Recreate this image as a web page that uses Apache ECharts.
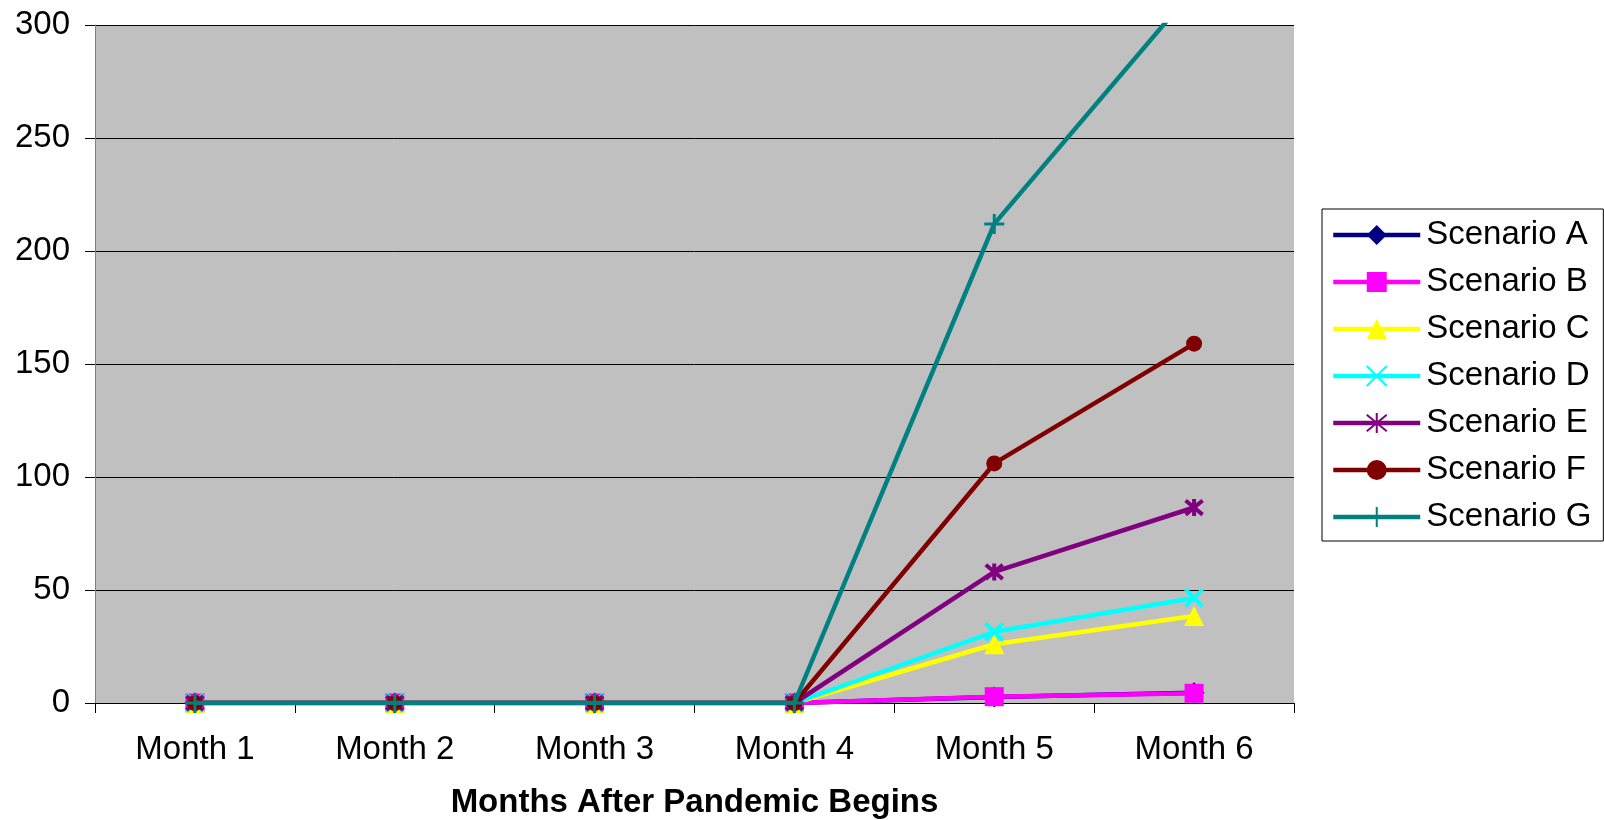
<!DOCTYPE html>
<html>
<head>
<meta charset="utf-8">
<script src="https://cdn.jsdelivr.net/npm/echarts@6/dist/echarts.min.js"></script>
<style>
  html, body { margin: 0; padding: 0; background: #ffffff; }
  #chart { width: 1604px; height: 820px; }
</style>
</head>
<body>
<div id="chart"></div>
<script>
// Months on the horizontal axis
const months = ['Month 1', 'Month 2', 'Month 3', 'Month 4', 'Month 5', 'Month 6'];

// Values per scenario
const scenarioA = [0, 0, 0, 0, 2.7, 4.5];
const scenarioB = [0, 0, 0, 0, 2.8, 4.3];
const scenarioC = [0, 0, 0, 0, 26, 38.5];
const scenarioD = [0, 0, 0, 0, 31.5, 46.5];
const scenarioE = [0, 0, 0, 0, 58, 86.5];
const scenarioF = [0, 0, 0, 0, 106, 159];
const scenarioG = [0, 0, 0, 0, 212, 316];

const seriesNames = ['Scenario A', 'Scenario B', 'Scenario C', 'Scenario D', 'Scenario E', 'Scenario F', 'Scenario G'];
const seriesData = [scenarioA, scenarioB, scenarioC, scenarioD, scenarioE, scenarioF, scenarioG];

const yTicks = { min: 0, max: 300, interval: 50 };
const xTitle = 'Months After Pandemic Begins';

const FONT = "'Liberation Sans', Arial, sans-serif";
const LINE_WIDTH = 4.5;

// Marker and colour styling for each scenario
const styles = [
  { color: '#000080', symbol: 'diamond', size: 21, stroke: 0 },
  { color: '#FF00FF', symbol: 'rect', size: 19, stroke: 0 },
  { color: '#FFFF00', symbol: 'triangle', size: 20, stroke: 0 },
  { color: '#00FFFF', symbol: 'path://M0,0L10,10M10,0L0,10', size: 17, stroke: 4 },
  { color: '#800080', symbol: 'path://M0,0L10,10M10,0L0,10M5,-1L5,11', size: 17, stroke: 4 },
  { color: '#800000', symbol: 'circle', size: 16, stroke: 0 },
  { color: '#008080', symbol: 'path://M5,0L5,10M0,5L10,5', size: 20, stroke: 3 }
];

const series = seriesNames.map((name, i) => {
  const s = styles[i];
  return {
    name: name,
    type: 'line',
    data: seriesData[i],
    symbol: s.symbol,
    symbolSize: s.size,
    showAllSymbol: true,
    color: s.color,
    lineStyle: { color: s.color, width: LINE_WIDTH },
    itemStyle: {
      color: s.color,
      borderColor: s.color,
      borderWidth: s.stroke
    },
    emphasis: { disabled: true },
    z: 2 + i
  };
});

const chart = echarts.init(document.getElementById('chart'), null, { renderer: 'canvas' });
chart.setOption({
  animation: false,
  backgroundColor: '#ffffff',
  textStyle: { fontFamily: FONT },
  grid: {
    left: 95, right: 310, top: 25, bottom: 117,
    outerBoundsMode: 'none',
    show: true,
    backgroundColor: '#C0C0C0',
    borderWidth: 0
  },
  legend: {
    orient: 'vertical',
    left: 1322,
    top: 209,
    backgroundColor: '#ffffff',
    borderColor: '#000000',
    borderWidth: 1,
    borderRadius: 0,
    padding: [6, 12, 4, 9],
    itemWidth: 87,
    itemHeight: 25,
    itemGap: 7,
    selectedMode: false,
    lineStyle: { width: LINE_WIDTH },
    textStyle: {
      fontFamily: FONT,
      fontSize: 33,
      color: '#000000',
      lineHeight: 40,
      padding: [0, 0, 0, 1]
    },
    data: seriesNames
  },
  xAxis: {
    type: 'category',
    data: months,
    boundaryGap: true,
    axisLine: { show: true, lineStyle: { color: '#000000', width: 1 } },
    axisTick: { show: true, length: 10, lineStyle: { color: '#000000' } },
    axisLabel: { color: '#000000', fontSize: 33, fontFamily: FONT, margin: 30 },
    name: xTitle,
    nameLocation: 'middle',
    nameGap: 83,
    nameTextStyle: { color: '#000000', fontSize: 33, fontWeight: 'bold', fontFamily: FONT }
  },
  yAxis: {
    type: 'value',
    min: yTicks.min,
    max: yTicks.max,
    interval: yTicks.interval,
    axisLine: { show: true, lineStyle: { color: '#808080', width: 1 } },
    axisTick: { show: true, length: 10, lineStyle: { color: '#000000' } },
    axisLabel: { color: '#000000', fontSize: 33, fontFamily: FONT, margin: 25 },
    splitLine: { show: true, lineStyle: { color: '#000000', width: 1 } }
  },
  series: series
});
</script>
</body>
</html>
